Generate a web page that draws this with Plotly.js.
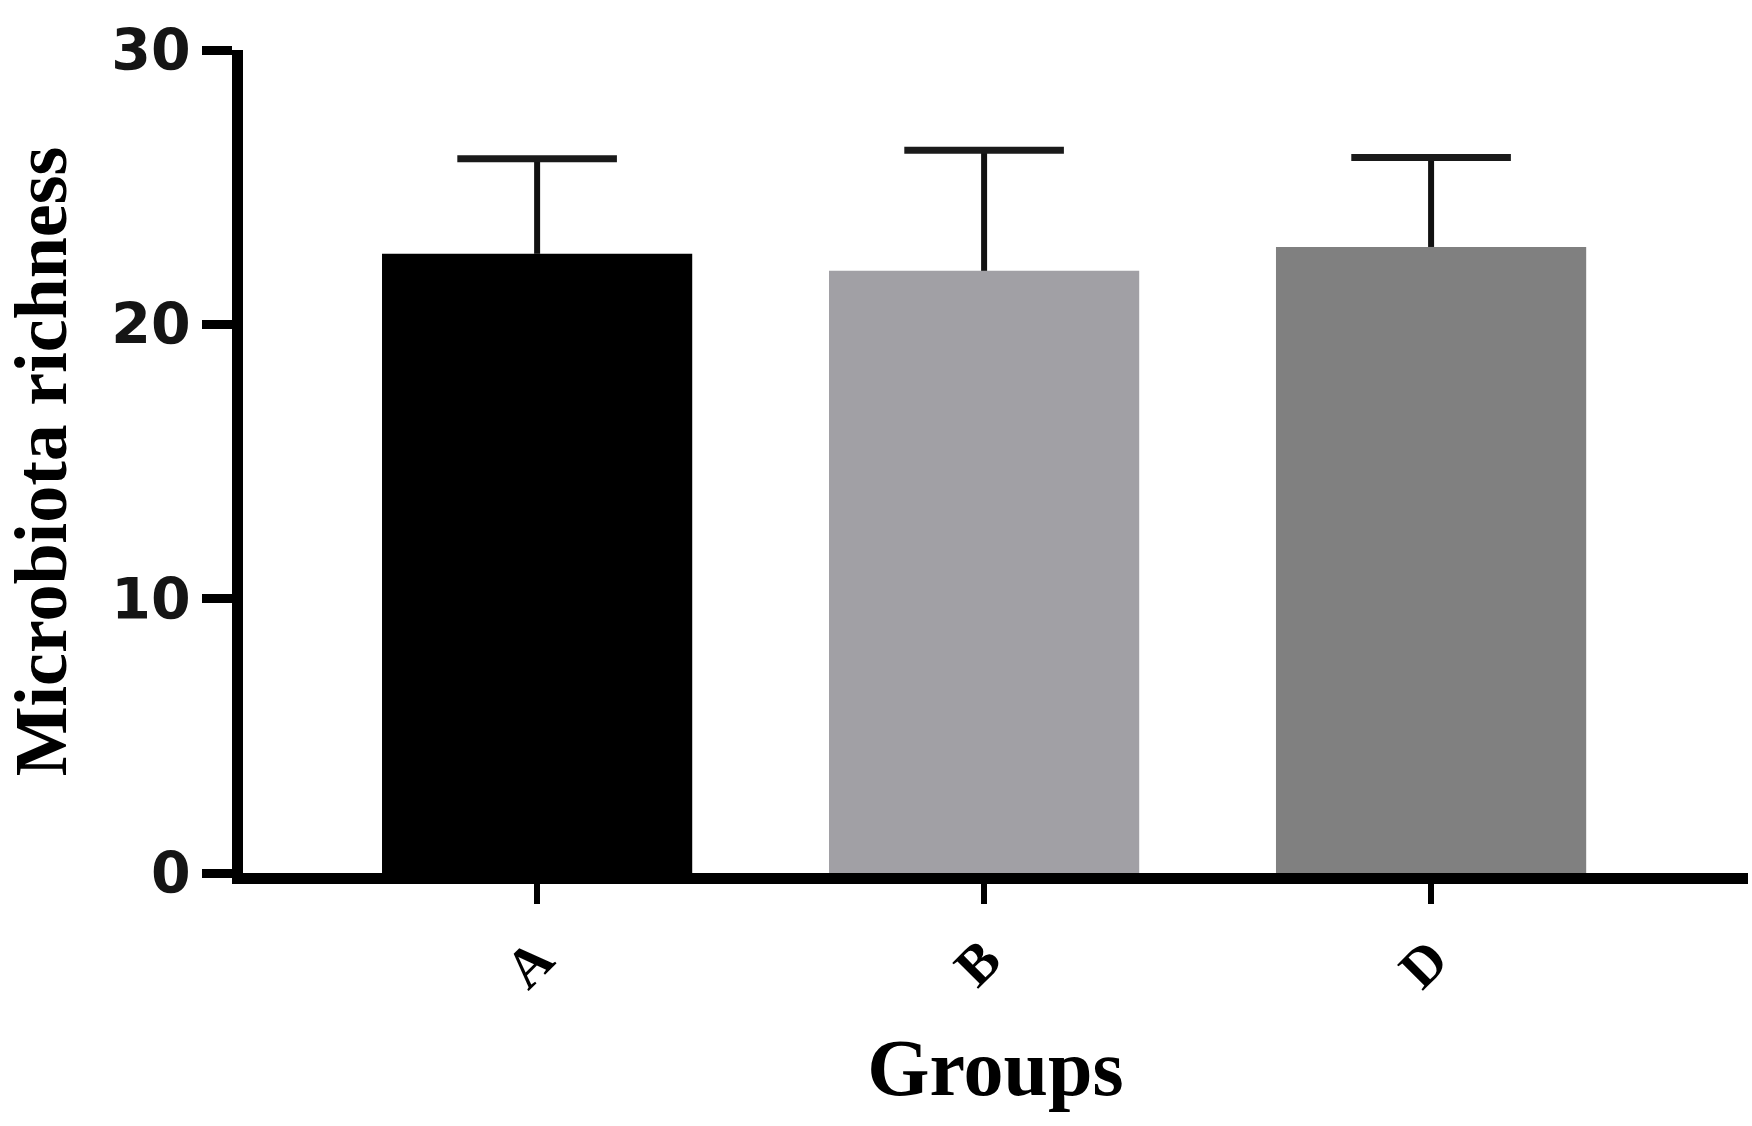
<!DOCTYPE html>
<html>
<head>
<meta charset="utf-8">
<script src="https://cdn.plot.ly/plotly-3.0.1.min.js"></script>
<style>html,body{margin:0;padding:0;background:#fff;}#chart{width:1752px;height:1126px;}</style>
</head>
<body>
<div id="chart"></div>
<script>
const groups = ["A", "B", "D"];
const richness = [22.57, 21.95, 22.82];
const sdUpper = [3.47, 4.40, 3.26];
const barColors = ["#000000", "#a1a0a5", "#808080"];
const yTickVals = [0, 10, 20, 30];
const yTickText = ["0", "10", "20", "30"];

const capY = richness.map((v, i) => v + sdUpper[i]);

const barTrace = {
  type: "bar",
  x: groups,
  y: richness,
  width: 0.694,
  marker: { color: barColors, line: { width: 0 } },
  error_y: {
    type: "data",
    symmetric: false,
    array: sdUpper,
    arrayminus: [0, 0, 0],
    color: "#111111",
    thickness: 6,
    width: 0
  },
  hoverinfo: "x+y"
};

const capTrace = {
  type: "scatter",
  mode: "markers",
  x: groups,
  y: capY,
  marker: {
    symbol: "line-ew",
    size: 114,
    color: "#1a1a1a",
    line: { width: 7, color: "#1a1a1a" }
  },
  hoverinfo: "skip"
};

const layout = {
  width: 1752,
  height: 1126,
  margin: { l: 243, r: 4, t: 50, b: 253 },
  paper_bgcolor: "#ffffff",
  plot_bgcolor: "#ffffff",
  showlegend: false,
  xaxis: {
    type: "category",
    range: [-0.658, 2.709],
    showline: true,
    linecolor: "#000000",
    linewidth: 11,
    ticks: "outside",
    ticklen: 20,
    tickwidth: 6,
    tickcolor: "#000000",
    tickangle: -45,
    showgrid: false,
    zeroline: false,
    tickfont: { family: "Liberation Serif, Times New Roman, serif", size: 56, color: "#000000", weight: "bold" },
    title: {
      text: "Groups",
      font: { family: "Liberation Serif, Times New Roman, serif", size: 80, color: "#000000", weight: "bold" },
      standoff: 44
    },
    fixedrange: true
  },
  yaxis: {
    range: [0, 30],
    tickvals: yTickVals,
    ticktext: yTickText,
    showline: true,
    linecolor: "#000000",
    linewidth: 11,
    ticks: "outside",
    ticklen: 30,
    tickwidth: 9,
    tickcolor: "#000000",
    showgrid: false,
    zeroline: false,
    tickfont: { family: "DejaVu Sans, Liberation Sans, sans-serif", size: 57, color: "#151515", weight: "bold" },
    title: {
      text: "Microbiota richness",
      font: { family: "Liberation Serif, Times New Roman, serif", size: 74, color: "#000000", weight: "bold" },
      standoff: 36
    },
    fixedrange: true
  }
};

Plotly.newPlot("chart", [barTrace, capTrace], layout, { displayModeBar: false, staticPlot: true });
</script>
</body>
</html>
